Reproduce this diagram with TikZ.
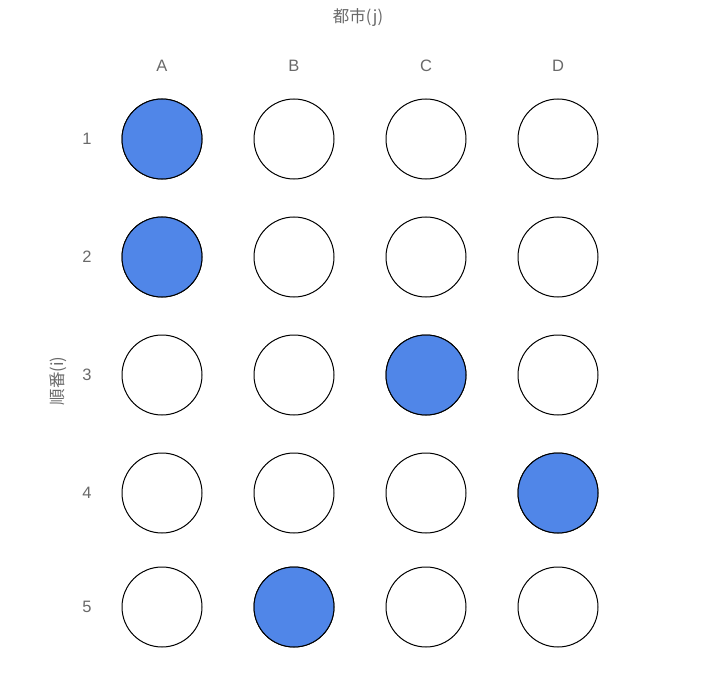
\documentclass[tikz,border=0pt]{standalone}
\usepackage{fontspec}
\setmainfont{Liberation Sans}
\newfontfamily\cjk{Noto Sans CJK JP}
\definecolor{pick}{RGB}{80,134,232}
\definecolor{lbl}{RGB}{105,105,105}
\tikzset{
  cell/.style={circle,draw=black,line width=1pt,minimum size=80pt,inner sep=0pt,fill=white},
  hit/.style={cell,fill=pick},
  lab/.style={text=lbl,font=\fontsize{16.5}{16.5}\selectfont}
}
\begin{document}
\begin{tikzpicture}[x=1pt,y=-1pt]
  \useasboundingbox (0,0) rectangle (710,690);
  \node[lab] (title) at (358,18) {\cjk 都市(j)};
  \node[lab,rotate=90] (ylab) at (58,381) {\cjk 順番(i)};
  % column and row labels
  \foreach \name/\x in {A/162,B/294,C/426,D/558}
    \node[lab] (col-\name) at (\x,66) {\name};
  \foreach \i/\y in {1/139,2/257,3/375,4/493,5/607}
    \node[lab] (row-\i) at (87,\y) {\i};
  % the grid
  \foreach \i/\y in {1/139,2/257,3/375,4/493,5/607}
    \foreach \name/\x in {A/162,B/294,C/426,D/558}
      \node[cell] (c-\i-\name) at (\x,\y) {};
  \foreach \i/\name in {1/A,2/A,3/C,4/D,5/B}
    \node[hit] at (c-\i-\name) {};
\end{tikzpicture}
\end{document}
